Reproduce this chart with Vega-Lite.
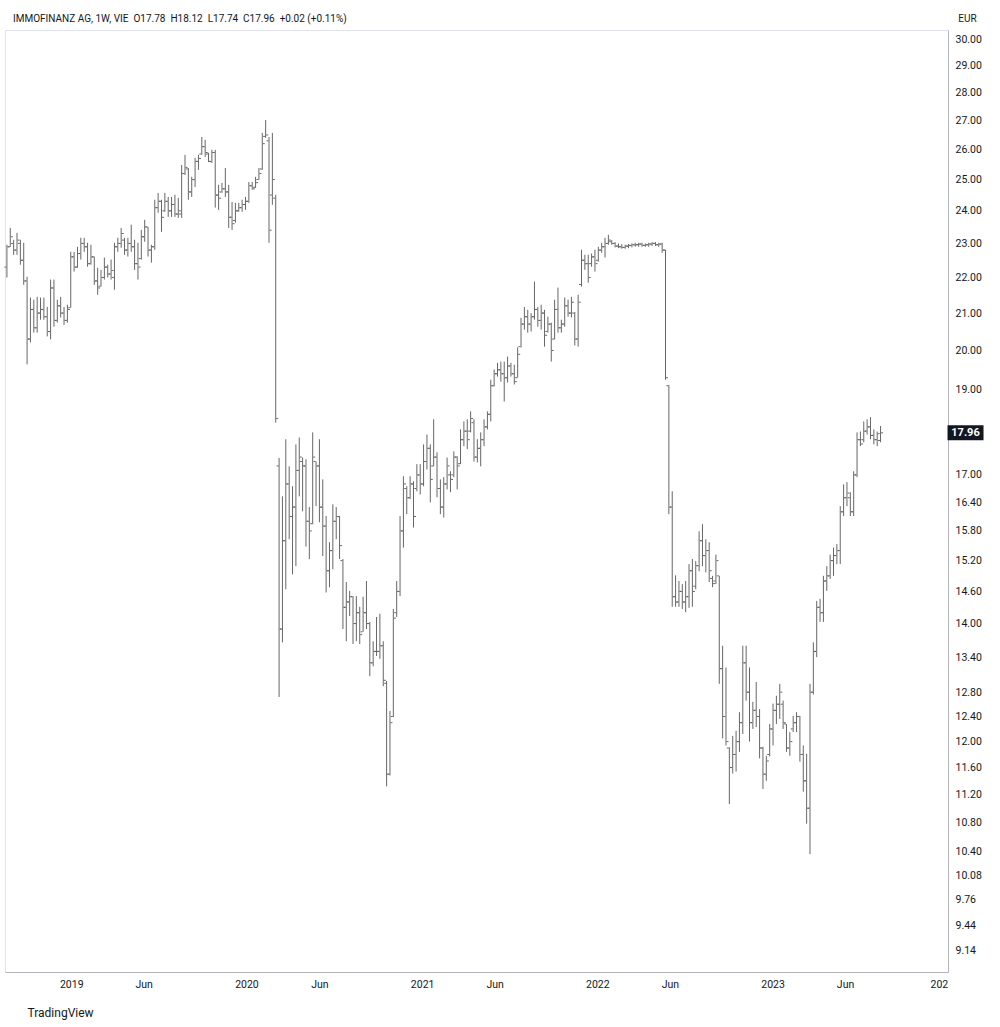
{
"$schema": "https://vega.github.io/schema/vega-lite/v6.json",
"width": 943, "height": 942,
"autosize": {"type": "none"},
"padding": {"left": 5, "top": 30, "right": 52, "bottom": 55},
"background": "#ffffff",
"config": {"view": {"stroke": "#e0e3eb"}, "font": "Roboto"},
"title": {"text": "IMMOFINANZ AG, 1W, VIE\u00a0\u00a0O17.78\u00a0\u00a0H18.12\u00a0\u00a0L17.74\u00a0\u00a0C17.96\u00a0\u00a0+0.02 (+0.11%)", "anchor": "start", "frame": "group", "fontSize": 10, "fontWeight": "normal", "color": "#131722", "offset": 8, "dx": 8, "dy": 19, "font": "Roboto"},
"data": {"values": [
{"d":"2018-08-20","o":22.3,"h":22.96,"l":22.0,"c":22.9},
{"d":"2018-08-27","o":22.9,"h":23.47,"l":22.9,"c":23.2},
{"d":"2018-09-03","o":23.0,"h":23.11,"l":22.66,"c":22.8},
{"d":"2018-09-10","o":22.8,"h":23.32,"l":22.66,"c":23.1},
{"d":"2018-09-17","o":23.0,"h":23.11,"l":22.37,"c":22.5},
{"d":"2018-09-24","o":22.5,"h":23.02,"l":21.79,"c":21.9},
{"d":"2018-10-01","o":21.9,"h":22.02,"l":19.64,"c":20.3},
{"d":"2018-10-08","o":20.3,"h":21.43,"l":20.21,"c":21.1},
{"d":"2018-10-15","o":21.1,"h":21.37,"l":20.47,"c":20.6},
{"d":"2018-10-22","o":20.6,"h":21.45,"l":20.47,"c":21.0},
{"d":"2018-10-29","o":21.0,"h":21.43,"l":20.82,"c":21.1},
{"d":"2018-11-05","o":21.1,"h":21.43,"l":20.82,"c":20.9},
{"d":"2018-11-12","o":20.9,"h":21.17,"l":20.37,"c":20.5},
{"d":"2018-11-19","o":20.5,"h":21.94,"l":20.29,"c":21.7},
{"d":"2018-11-26","o":21.7,"h":21.94,"l":20.63,"c":20.8},
{"d":"2018-12-03","o":20.8,"h":21.37,"l":20.74,"c":21.2},
{"d":"2018-12-10","o":21.2,"h":21.45,"l":20.88,"c":21.0},
{"d":"2018-12-17","o":21.0,"h":21.17,"l":20.68,"c":20.8},
{"d":"2018-12-24","o":20.8,"h":21.23,"l":20.74,"c":21.1},
{"d":"2018-12-31","o":21.15,"h":22.75,"l":21.15,"c":22.6},
{"d":"2019-01-07","o":22.6,"h":22.75,"l":22.17,"c":22.3},
{"d":"2019-01-14","o":22.3,"h":22.9,"l":22.28,"c":22.7},
{"d":"2019-01-21","o":22.7,"h":23.17,"l":22.52,"c":23.0},
{"d":"2019-01-28","o":23.0,"h":23.17,"l":22.75,"c":22.9},
{"d":"2019-02-04","o":22.9,"h":23.02,"l":22.31,"c":22.4},
{"d":"2019-02-11","o":22.4,"h":22.96,"l":22.37,"c":22.6},
{"d":"2019-02-18","o":22.6,"h":22.61,"l":21.79,"c":21.9},
{"d":"2019-02-25","o":21.9,"h":22.28,"l":21.51,"c":21.7},
{"d":"2019-03-04","o":21.75,"h":22.22,"l":21.74,"c":22.0},
{"d":"2019-03-11","o":22.0,"h":22.58,"l":21.94,"c":22.3},
{"d":"2019-03-18","o":22.3,"h":22.37,"l":22.0,"c":22.1},
{"d":"2019-03-25","o":22.1,"h":22.52,"l":21.94,"c":22.2},
{"d":"2019-04-01","o":22.0,"h":23.02,"l":21.65,"c":22.9},
{"d":"2019-04-08","o":22.9,"h":23.17,"l":22.75,"c":23.0},
{"d":"2019-04-15","o":23.0,"h":23.47,"l":22.87,"c":23.3},
{"d":"2019-04-22","o":23.1,"h":23.17,"l":22.66,"c":22.8},
{"d":"2019-04-29","o":22.8,"h":23.17,"l":22.61,"c":23.0},
{"d":"2019-05-06","o":23.0,"h":23.57,"l":22.75,"c":22.9},
{"d":"2019-05-13","o":22.9,"h":23.11,"l":22.22,"c":22.4},
{"d":"2019-05-20","o":22.4,"h":23.02,"l":21.94,"c":22.3},
{"d":"2019-05-27","o":22.55,"h":23.41,"l":22.52,"c":23.2},
{"d":"2019-06-03","o":23.2,"h":23.72,"l":23.05,"c":23.5},
{"d":"2019-06-10","o":23.5,"h":23.5,"l":22.61,"c":22.8},
{"d":"2019-06-17","o":22.8,"h":22.96,"l":22.43,"c":22.9},
{"d":"2019-06-24","o":22.9,"h":24.35,"l":22.81,"c":24.1},
{"d":"2019-07-01","o":24.1,"h":24.57,"l":23.94,"c":24.3},
{"d":"2019-07-08","o":24.3,"h":24.35,"l":23.35,"c":23.8},
{"d":"2019-07-15","o":24.0,"h":24.57,"l":23.97,"c":24.3},
{"d":"2019-07-22","o":24.3,"h":24.44,"l":23.81,"c":24.0},
{"d":"2019-07-29","o":24.0,"h":24.44,"l":23.81,"c":24.2},
{"d":"2019-08-05","o":24.2,"h":24.51,"l":23.81,"c":23.9},
{"d":"2019-08-12","o":23.9,"h":24.41,"l":23.78,"c":24.0},
{"d":"2019-08-19","o":23.9,"h":25.48,"l":23.78,"c":25.2},
{"d":"2019-08-26","o":25.2,"h":25.82,"l":25.15,"c":25.4},
{"d":"2019-09-02","o":25.35,"h":25.38,"l":24.35,"c":24.6},
{"d":"2019-09-09","o":24.6,"h":25.09,"l":24.44,"c":25.0},
{"d":"2019-09-16","o":25.0,"h":25.72,"l":24.76,"c":25.6},
{"d":"2019-09-23","o":25.6,"h":25.82,"l":25.32,"c":25.7},
{"d":"2019-09-30","o":25.85,"h":26.43,"l":25.82,"c":26.1},
{"d":"2019-10-07","o":26.1,"h":26.33,"l":25.75,"c":25.9},
{"d":"2019-10-14","o":25.85,"h":25.89,"l":25.58,"c":25.6},
{"d":"2019-10-21","o":25.6,"h":25.99,"l":25.55,"c":25.9},
{"d":"2019-10-28","o":25.9,"h":25.99,"l":24.1,"c":24.5},
{"d":"2019-11-04","o":24.5,"h":24.83,"l":24.03,"c":24.4},
{"d":"2019-11-11","o":24.6,"h":24.89,"l":24.57,"c":24.7},
{"d":"2019-11-18","o":24.7,"h":25.38,"l":24.44,"c":24.6},
{"d":"2019-11-25","o":24.6,"h":24.83,"l":23.47,"c":23.8},
{"d":"2019-12-02","o":23.8,"h":24.28,"l":23.41,"c":23.6},
{"d":"2019-12-09","o":23.7,"h":24.25,"l":23.63,"c":24.0},
{"d":"2019-12-16","o":24.0,"h":24.25,"l":23.97,"c":24.1},
{"d":"2019-12-23","o":24.1,"h":24.35,"l":23.97,"c":24.2},
{"d":"2019-12-30","o":24.2,"h":24.44,"l":24.03,"c":24.3},
{"d":"2020-01-06","o":24.3,"h":24.92,"l":24.25,"c":24.8},
{"d":"2020-01-13","o":24.8,"h":24.92,"l":24.67,"c":24.7},
{"d":"2020-01-20","o":24.75,"h":25.09,"l":24.73,"c":24.9},
{"d":"2020-01-27","o":25.0,"h":25.38,"l":24.99,"c":25.2},
{"d":"2020-02-03","o":25.35,"h":26.57,"l":25.32,"c":26.2},
{"d":"2020-02-10","o":26.45,"h":27.02,"l":26.4,"c":26.5},
{"d":"2020-02-17","o":26.3,"h":26.43,"l":23.02,"c":23.4},
{"d":"2020-02-24","o":24.5,"h":26.57,"l":24.19,"c":25.0},
{"d":"2020-03-02","o":24.4,"h":24.51,"l":18.2,"c":18.3},
{"d":"2020-03-09","o":17.2,"h":17.38,"l":12.72,"c":13.9},
{"d":"2020-03-16","o":13.9,"h":16.53,"l":13.66,"c":15.6},
{"d":"2020-03-23","o":15.6,"h":17.81,"l":14.64,"c":16.8},
{"d":"2020-03-30","o":16.8,"h":17.19,"l":15.63,"c":16.1},
{"d":"2020-04-06","o":16.1,"h":16.75,"l":14.93,"c":16.3},
{"d":"2020-04-13","o":16.3,"h":17.69,"l":15.09,"c":17.1},
{"d":"2020-04-20","o":17.1,"h":17.85,"l":16.53,"c":17.4},
{"d":"2020-04-27","o":17.3,"h":17.39,"l":16.21,"c":17.2},
{"d":"2020-05-04","o":17.2,"h":17.35,"l":15.48,"c":16.0},
{"d":"2020-05-11","o":16.0,"h":16.3,"l":15.23,"c":15.8},
{"d":"2020-05-18","o":15.95,"h":17.97,"l":15.94,"c":17.4},
{"d":"2020-05-25","o":17.3,"h":17.3,"l":16.32,"c":17.2},
{"d":"2020-06-01","o":17.2,"h":17.81,"l":15.98,"c":16.3},
{"d":"2020-06-08","o":16.3,"h":16.9,"l":15.29,"c":15.9},
{"d":"2020-06-15","o":15.9,"h":16.11,"l":14.58,"c":15.0},
{"d":"2020-06-22","o":15.0,"h":15.57,"l":14.68,"c":15.4},
{"d":"2020-06-29","o":15.4,"h":16.36,"l":15.03,"c":16.0},
{"d":"2020-07-06","o":16.0,"h":16.3,"l":15.63,"c":16.1},
{"d":"2020-07-13","o":16.1,"h":16.11,"l":15.23,"c":15.5},
{"d":"2020-07-20","o":15.2,"h":15.23,"l":13.9,"c":14.3},
{"d":"2020-07-27","o":14.3,"h":14.78,"l":13.68,"c":14.4},
{"d":"2020-08-03","o":14.4,"h":14.61,"l":14.14,"c":14.5},
{"d":"2020-08-10","o":14.5,"h":14.51,"l":13.63,"c":14.0},
{"d":"2020-08-17","o":14.0,"h":14.51,"l":13.68,"c":14.2},
{"d":"2020-08-24","o":14.2,"h":14.31,"l":13.63,"c":13.8},
{"d":"2020-08-31","o":13.85,"h":14.5,"l":13.85,"c":14.2},
{"d":"2020-09-07","o":14.2,"h":14.8,"l":13.9,"c":14.0},
{"d":"2020-09-14","o":14.0,"h":14.03,"l":13.07,"c":13.3},
{"d":"2020-09-21","o":13.3,"h":13.68,"l":13.24,"c":13.5},
{"d":"2020-09-28","o":13.5,"h":14.12,"l":13.42,"c":13.5},
{"d":"2020-10-05","o":13.5,"h":14.18,"l":13.37,"c":13.6},
{"d":"2020-10-12","o":13.6,"h":13.68,"l":12.9,"c":13.0},
{"d":"2020-10-19","o":12.95,"h":12.99,"l":11.32,"c":11.5},
{"d":"2020-10-26","o":11.5,"h":12.49,"l":11.48,"c":12.3},
{"d":"2020-11-02","o":12.4,"h":14.27,"l":12.39,"c":14.1},
{"d":"2020-11-09","o":14.2,"h":14.8,"l":14.12,"c":14.6},
{"d":"2020-11-16","o":14.6,"h":16.11,"l":14.51,"c":15.8},
{"d":"2020-11-23","o":15.8,"h":16.97,"l":15.46,"c":16.8},
{"d":"2020-11-30","o":16.7,"h":16.75,"l":16.15,"c":16.5},
{"d":"2020-12-07","o":16.5,"h":16.97,"l":16.47,"c":16.8},
{"d":"2020-12-14","o":16.8,"h":16.86,"l":15.87,"c":16.1},
{"d":"2020-12-21","o":16.7,"h":17.24,"l":16.64,"c":17.0},
{"d":"2020-12-28","o":17.0,"h":17.24,"l":16.57,"c":16.8},
{"d":"2021-01-04","o":16.8,"h":17.69,"l":16.75,"c":17.3},
{"d":"2021-01-11","o":17.3,"h":17.92,"l":17.12,"c":17.6},
{"d":"2021-01-18","o":17.6,"h":17.69,"l":16.4,"c":16.9},
{"d":"2021-01-25","o":17.2,"h":18.28,"l":17.19,"c":17.4},
{"d":"2021-02-01","o":17.4,"h":17.51,"l":16.51,"c":16.7},
{"d":"2021-02-08","o":16.7,"h":16.9,"l":16.15,"c":16.3},
{"d":"2021-02-15","o":16.3,"h":16.95,"l":16.08,"c":16.8},
{"d":"2021-02-22","o":16.8,"h":17.39,"l":16.68,"c":17.2},
{"d":"2021-03-01","o":17.0,"h":17.08,"l":16.62,"c":16.9},
{"d":"2021-03-08","o":17.0,"h":17.53,"l":16.95,"c":17.4},
{"d":"2021-03-15","o":17.4,"h":17.42,"l":16.68,"c":17.2},
{"d":"2021-03-22","o":17.25,"h":18.04,"l":17.24,"c":17.8},
{"d":"2021-03-29","o":17.8,"h":18.23,"l":17.65,"c":18.0},
{"d":"2021-04-05","o":18.0,"h":18.28,"l":17.58,"c":17.8},
{"d":"2021-04-12","o":18.0,"h":18.47,"l":17.97,"c":18.3},
{"d":"2021-04-19","o":18.2,"h":18.28,"l":17.3,"c":17.4},
{"d":"2021-04-26","o":17.4,"h":17.81,"l":17.28,"c":17.6},
{"d":"2021-05-03","o":17.6,"h":17.97,"l":17.19,"c":17.8},
{"d":"2021-05-10","o":17.8,"h":18.28,"l":17.65,"c":18.1},
{"d":"2021-05-17","o":18.1,"h":18.47,"l":18.04,"c":18.4},
{"d":"2021-05-24","o":18.4,"h":19.25,"l":18.23,"c":19.1},
{"d":"2021-05-31","o":19.1,"h":19.51,"l":19.08,"c":19.4},
{"d":"2021-06-07","o":19.4,"h":19.68,"l":19.33,"c":19.5},
{"d":"2021-06-14","o":19.5,"h":19.71,"l":19.2,"c":19.4},
{"d":"2021-06-21","o":19.4,"h":19.71,"l":18.71,"c":19.3},
{"d":"2021-06-28","o":19.3,"h":19.84,"l":19.18,"c":19.6},
{"d":"2021-07-05","o":19.6,"h":19.68,"l":19.33,"c":19.4},
{"d":"2021-07-12","o":19.4,"h":19.63,"l":19.13,"c":19.2},
{"d":"2021-07-19","o":19.3,"h":20.08,"l":19.3,"c":19.9},
{"d":"2021-07-26","o":20.1,"h":20.87,"l":20.08,"c":20.7},
{"d":"2021-08-02","o":20.7,"h":21.17,"l":20.55,"c":20.9},
{"d":"2021-08-09","o":20.9,"h":21.09,"l":20.47,"c":20.7},
{"d":"2021-08-16","o":20.7,"h":21.0,"l":20.5,"c":20.9},
{"d":"2021-08-23","o":20.9,"h":21.88,"l":20.82,"c":21.1},
{"d":"2021-08-30","o":21.1,"h":21.17,"l":20.63,"c":20.8},
{"d":"2021-09-06","o":20.8,"h":21.23,"l":20.55,"c":21.0},
{"d":"2021-09-13","o":21.0,"h":21.09,"l":20.1,"c":20.4},
{"d":"2021-09-20","o":20.5,"h":20.9,"l":20.47,"c":20.7},
{"d":"2021-09-27","o":20.7,"h":20.74,"l":19.71,"c":20.0},
{"d":"2021-10-04","o":20.3,"h":21.37,"l":20.29,"c":21.1},
{"d":"2021-10-11","o":21.1,"h":21.71,"l":20.47,"c":20.6},
{"d":"2021-10-18","o":20.6,"h":20.82,"l":20.47,"c":20.7},
{"d":"2021-10-25","o":20.7,"h":21.43,"l":20.63,"c":21.2},
{"d":"2021-11-01","o":21.2,"h":21.37,"l":20.9,"c":21.0},
{"d":"2021-11-08","o":21.0,"h":21.45,"l":20.88,"c":21.3},
{"d":"2021-11-15","o":21.0,"h":21.03,"l":20.13,"c":20.3},
{"d":"2021-11-22","o":20.3,"h":21.51,"l":20.1,"c":21.3},
{"d":"2021-11-29","o":21.8,"h":22.81,"l":21.74,"c":22.5},
{"d":"2021-12-06","o":22.5,"h":22.66,"l":22.22,"c":22.4},
{"d":"2021-12-13","o":22.4,"h":22.66,"l":21.85,"c":22.0},
{"d":"2021-12-20","o":22.4,"h":22.7,"l":22.31,"c":22.6},
{"d":"2021-12-27","o":22.6,"h":22.81,"l":22.17,"c":22.4},
{"d":"2022-01-03","o":22.5,"h":22.9,"l":22.46,"c":22.8},
{"d":"2022-01-10","o":22.8,"h":23.02,"l":22.72,"c":22.9},
{"d":"2022-01-17","o":22.9,"h":23.17,"l":22.58,"c":23.0},
{"d":"2022-01-24","o":23.0,"h":23.26,"l":22.96,"c":23.1},
{"d":"2022-01-31","o":23.05,"h":23.1,"l":22.96,"c":23.0},
{"d":"2022-02-07","o":23.0,"h":23.04,"l":22.88,"c":22.92},
{"d":"2022-02-14","o":22.92,"h":23.0,"l":22.86,"c":22.9},
{"d":"2022-02-21","o":22.9,"h":22.98,"l":22.84,"c":22.88},
{"d":"2022-02-28","o":22.88,"h":22.96,"l":22.84,"c":22.92},
{"d":"2022-03-07","o":22.92,"h":22.98,"l":22.86,"c":22.94},
{"d":"2022-03-14","o":22.94,"h":23.0,"l":22.88,"c":22.96},
{"d":"2022-03-21","o":22.96,"h":23.02,"l":22.9,"c":22.96},
{"d":"2022-03-28","o":22.96,"h":23.02,"l":22.9,"c":22.98},
{"d":"2022-04-04","o":22.98,"h":23.02,"l":22.9,"c":22.94},
{"d":"2022-04-11","o":22.94,"h":23.0,"l":22.9,"c":22.96},
{"d":"2022-04-18","o":22.96,"h":23.02,"l":22.9,"c":22.98},
{"d":"2022-04-25","o":22.98,"h":23.04,"l":22.92,"c":23.0},
{"d":"2022-05-02","o":23.0,"h":23.04,"l":22.92,"c":22.96},
{"d":"2022-05-09","o":22.96,"h":23.02,"l":22.9,"c":22.98},
{"d":"2022-05-16","o":22.98,"h":23.02,"l":22.72,"c":22.8},
{"d":"2022-05-23","o":22.8,"h":22.81,"l":19.25,"c":19.3},
{"d":"2022-05-30","o":19.1,"h":19.12,"l":16.15,"c":16.3},
{"d":"2022-06-06","o":16.3,"h":16.64,"l":14.31,"c":14.5},
{"d":"2022-06-13","o":14.5,"h":14.91,"l":14.31,"c":14.4},
{"d":"2022-06-20","o":14.4,"h":14.8,"l":14.31,"c":14.6},
{"d":"2022-06-27","o":14.6,"h":14.74,"l":14.27,"c":14.4},
{"d":"2022-07-04","o":14.4,"h":14.8,"l":14.21,"c":14.5},
{"d":"2022-07-11","o":14.5,"h":15.13,"l":14.29,"c":15.0},
{"d":"2022-07-18","o":15.0,"h":15.23,"l":14.31,"c":14.6},
{"d":"2022-07-25","o":14.7,"h":15.19,"l":14.64,"c":15.1},
{"d":"2022-08-01","o":15.1,"h":15.79,"l":14.99,"c":15.6},
{"d":"2022-08-08","o":15.6,"h":15.94,"l":15.09,"c":15.3},
{"d":"2022-08-15","o":15.3,"h":15.63,"l":14.97,"c":15.4},
{"d":"2022-08-22","o":15.4,"h":15.57,"l":14.78,"c":15.0},
{"d":"2022-08-29","o":14.85,"h":14.9,"l":14.68,"c":14.75},
{"d":"2022-09-05","o":14.8,"h":15.32,"l":14.74,"c":15.2},
{"d":"2022-09-12","o":14.9,"h":14.9,"l":12.94,"c":13.2},
{"d":"2022-09-19","o":13.2,"h":13.6,"l":12.05,"c":12.4},
{"d":"2022-09-26","o":12.4,"h":13.22,"l":11.94,"c":12.0},
{"d":"2022-10-03","o":11.9,"h":11.91,"l":11.06,"c":11.6},
{"d":"2022-10-10","o":11.6,"h":12.09,"l":11.51,"c":11.8},
{"d":"2022-10-17","o":11.8,"h":12.17,"l":11.54,"c":12.0},
{"d":"2022-10-24","o":12.0,"h":12.47,"l":11.84,"c":12.3},
{"d":"2022-10-31","o":12.3,"h":13.6,"l":12.12,"c":13.3},
{"d":"2022-11-07","o":13.3,"h":13.6,"l":12.66,"c":12.8},
{"d":"2022-11-14","o":12.8,"h":13.22,"l":12.0,"c":12.3},
{"d":"2022-11-21","o":12.3,"h":12.64,"l":12.2,"c":12.5},
{"d":"2022-11-28","o":12.5,"h":12.97,"l":12.23,"c":12.4},
{"d":"2022-12-05","o":12.4,"h":12.52,"l":11.74,"c":11.9},
{"d":"2022-12-12","o":11.9,"h":11.92,"l":11.28,"c":11.5},
{"d":"2022-12-19","o":11.5,"h":11.78,"l":11.4,"c":11.7},
{"d":"2022-12-26","o":11.8,"h":12.28,"l":11.77,"c":12.2},
{"d":"2023-01-02","o":12.2,"h":12.61,"l":11.94,"c":12.5},
{"d":"2023-01-09","o":12.5,"h":12.74,"l":12.28,"c":12.6},
{"d":"2023-01-16","o":12.6,"h":12.94,"l":12.36,"c":12.8},
{"d":"2023-01-23","o":12.6,"h":12.66,"l":12.2,"c":12.3},
{"d":"2023-01-30","o":12.28,"h":12.28,"l":11.84,"c":11.9},
{"d":"2023-02-06","o":11.9,"h":12.15,"l":11.78,"c":12.0},
{"d":"2023-02-13","o":12.2,"h":12.41,"l":12.15,"c":12.3},
{"d":"2023-02-20","o":12.3,"h":12.47,"l":12.15,"c":12.4},
{"d":"2023-02-27","o":12.4,"h":12.41,"l":11.69,"c":11.8},
{"d":"2023-03-06","o":11.8,"h":11.94,"l":11.24,"c":11.4},
{"d":"2023-03-13","o":11.4,"h":11.81,"l":10.78,"c":11.0},
{"d":"2023-03-20","o":11.0,"h":12.94,"l":10.36,"c":12.8},
{"d":"2023-03-27","o":12.8,"h":13.66,"l":12.76,"c":13.5},
{"d":"2023-04-03","o":13.5,"h":14.42,"l":13.4,"c":14.3},
{"d":"2023-04-10","o":14.3,"h":14.46,"l":14.03,"c":14.2},
{"d":"2023-04-17","o":14.2,"h":14.9,"l":14.03,"c":14.8},
{"d":"2023-04-24","o":14.8,"h":15.09,"l":14.61,"c":14.9},
{"d":"2023-05-01","o":14.9,"h":15.32,"l":14.84,"c":15.2},
{"d":"2023-05-08","o":15.2,"h":15.46,"l":14.9,"c":15.3},
{"d":"2023-05-15","o":15.3,"h":15.53,"l":15.13,"c":15.4},
{"d":"2023-05-22","o":15.4,"h":16.32,"l":15.13,"c":16.2},
{"d":"2023-05-29","o":16.2,"h":16.79,"l":16.11,"c":16.5},
{"d":"2023-06-05","o":16.5,"h":16.84,"l":16.32,"c":16.6},
{"d":"2023-06-12","o":16.5,"h":16.62,"l":16.11,"c":16.2},
{"d":"2023-06-19","o":16.2,"h":17.08,"l":16.11,"c":17.0},
{"d":"2023-06-26","o":17.0,"h":17.97,"l":16.95,"c":17.8},
{"d":"2023-07-03","o":17.8,"h":17.99,"l":17.65,"c":17.7},
{"d":"2023-07-10","o":17.8,"h":18.23,"l":17.74,"c":18.0},
{"d":"2023-07-17","o":18.0,"h":18.28,"l":17.92,"c":18.1},
{"d":"2023-07-24","o":18.1,"h":18.33,"l":17.81,"c":17.9},
{"d":"2023-07-31","o":17.9,"h":18.04,"l":17.69,"c":17.8},
{"d":"2023-08-07","o":17.8,"h":17.99,"l":17.65,"c":17.94},
{"d":"2023-08-14","o":17.78,"h":18.12,"l":17.74,"c":17.96}
]},
"encoding": {
  "x": {"field": "d", "type": "temporal",
    "scale": {"type": "utc", "domain": [{"year": 2018, "month": 8, "date": 16, "utc": true}, {"year": 2024, "month": 1, "date": 1, "hours": 12, "utc": true}]},
    "axis": {"values": [
      {"year": 2019, "month": 1, "date": 1, "utc": true},
      {"year": 2019, "month": 6, "date": 1, "utc": true},
      {"year": 2020, "month": 1, "date": 1, "utc": true},
      {"year": 2020, "month": 6, "date": 1, "utc": true},
      {"year": 2021, "month": 1, "date": 1, "utc": true},
      {"year": 2021, "month": 6, "date": 1, "utc": true},
      {"year": 2022, "month": 1, "date": 1, "utc": true},
      {"year": 2022, "month": 6, "date": 1, "utc": true},
      {"year": 2023, "month": 1, "date": 1, "utc": true},
      {"year": 2023, "month": 6, "date": 1, "utc": true},
      {"year": 2024, "month": 1, "date": 1, "utc": true}],
      "labelExpr": "utcyear(datum.value) == 2024 ? '202' : (utcmonth(datum.value) == 0 ? utcFormat(datum.value, '%Y') : 'Jun')",
      "labelAlign": {"condition": {"test": "utcyear(datum.value) == 2024", "value": "right"}, "value": "center"},
      "labelFlush": false, "labelOverlap": false,
      "grid": false, "ticks": false, "domainColor": "#b2b5be",
      "labelPadding": 7, "labelFontSize": 10.5, "labelColor": "#131722", "labelFont": "Roboto",
      "title": "TradingView", "titleX": 22, "titleY": 40, "titleAlign": "left", "titleBaseline": "middle",
      "titleFontSize": 12, "titleFontWeight": "normal", "titleColor": "#131722", "titleFont": "Roboto"}
  }
},
"layer": [
  {"mark": {"type": "rule", "color": "#666666", "strokeWidth": 1},
   "encoding": {
     "y": {"field": "l", "type": "quantitative",
       "scale": {"type": "log", "domain": [8.8818, 30.393], "nice": false, "zero": false},
       "axis": {"orient": "right", "values": [30, 29, 28, 27, 26, 25, 24, 23, 22, 21, 20, 19, 17, 16.4, 15.8, 15.2, 14.6, 14, 13.4, 12.8, 12.4, 12, 11.6, 11.2, 10.8, 10.4, 10.08, 9.76, 9.44, 9.14],
         "format": ".2f", "grid": false, "ticks": false, "domainColor": "#b2b5be", "labelOverlap": false,
         "labelPadding": 7, "labelFontSize": 10.5, "labelColor": "#131722", "labelFont": "Roboto",
         "title": "EUR", "titleAngle": 0, "titleX": 19, "titleY": -12, "titleAlign": "center", "titleBaseline": "middle",
         "titleFontSize": 10, "titleFontWeight": "normal", "titleColor": "#131722", "titleFont": "Roboto"}},
     "y2": {"field": "h"}}},
  {"mark": {"type": "tick", "orient": "horizontal", "size": 2, "thickness": 1, "xOffset": -1.5, "color": "#666666", "opacity": 1},
   "encoding": {"y": {"field": "o", "type": "quantitative"}}},
  {"mark": {"type": "tick", "orient": "horizontal", "size": 2, "thickness": 1, "xOffset": 1.5, "color": "#666666", "opacity": 1},
   "encoding": {"y": {"field": "c", "type": "quantitative"}}},
  {"data": {"values": [{"p": 17.96, "t": "2024-02-07"}]},
   "mark": {"type": "tick", "orient": "horizontal", "size": 36, "thickness": 15, "color": "#131722", "opacity": 1, "clip": false},
   "encoding": {"x": {"field": "t", "type": "temporal"}, "y": {"field": "p", "type": "quantitative"}}},
  {"data": {"values": [{"p": 17.96, "t": "2024-02-07"}]},
   "mark": {"type": "text", "color": "#ffffff", "fontWeight": "bold", "fontSize": 11, "font": "Roboto", "clip": false},
   "encoding": {"x": {"field": "t", "type": "temporal"}, "y": {"field": "p", "type": "quantitative"}, "text": {"field": "p", "type": "quantitative", "format": ".2f"}}}
]
}
